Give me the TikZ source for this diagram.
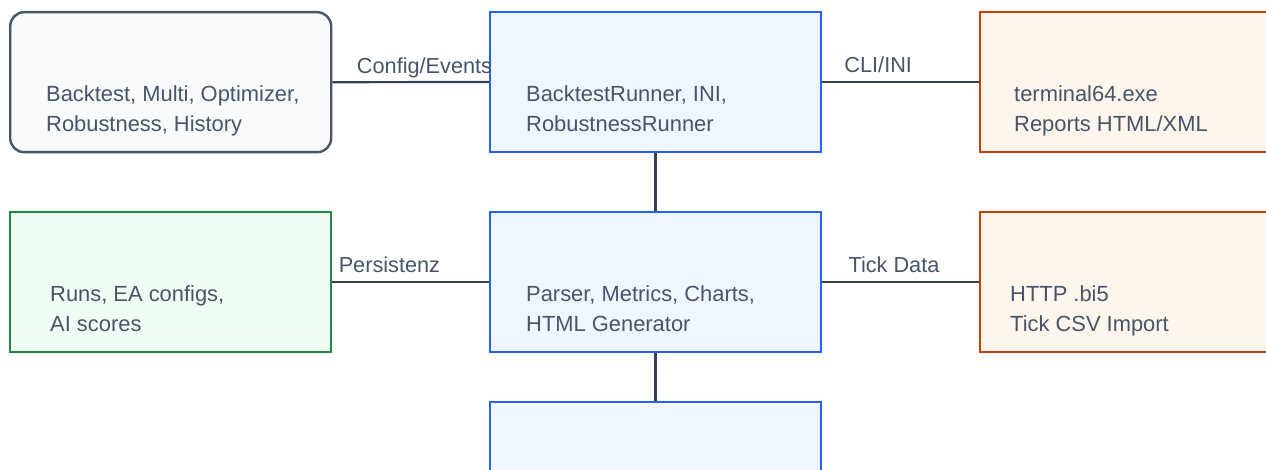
\documentclass[tikz,border=0pt]{standalone}
\usepackage{fontspec}
\setmainfont{Liberation Sans}
\definecolor{txtc}{HTML}{475569}
\definecolor{connc}{HTML}{334155}
\definecolor{greyfill}{HTML}{F8FAFC}
\definecolor{greyline}{HTML}{475569}
\definecolor{bluefill}{HTML}{EFF6FF}
\definecolor{blueline}{HTML}{2563EB}
\definecolor{orangefill}{HTML}{FEF5EC}
\definecolor{orangeline}{HTML}{C2410C}
\definecolor{greenfill}{HTML}{F0FDF4}
\definecolor{greenline}{HTML}{1E8A3E}
\begin{document}
\begin{tikzpicture}[x=1pt,y=-1pt,
  boxbase/.style={draw, line width=2pt, anchor=north west, inner sep=0pt, minimum height=140pt},
  greybox/.style={boxbase, draw=greyline, fill=greyfill, rounded corners=14pt, line width=2.4pt, minimum width=321pt},
  bluebox/.style={boxbase, draw=blueline, fill=bluefill, minimum width=331pt},
  orangebox/.style={boxbase, draw=orangeline, fill=orangefill, minimum width=331pt},
  greenbox/.style={boxbase, draw=greenline, fill=greenfill, minimum width=321pt},
  txt/.style={font=\fontsize{21.9}{29.4}\selectfont, text=txtc, align=left, inner sep=0pt, anchor=base west},
  lbl/.style={font=\fontsize{21.7}{26}\selectfont, text=txtc, inner sep=0pt, anchor=base west, yshift=9pt},
  conn/.style={draw=connc, line width=2.2pt}
]
\useasboundingbox (0,0) rectangle (1266,470);
% boxes
\node[greybox] (A) at (9,11) {};
\node[bluebox] (B) at (489,11) {};
\node[orangebox] (C) at (979,11) {};
\node[greenbox] (D) at (9,211) {};
\node[bluebox] (E) at (489,211) {};
\node[orangebox] (F) at (979,211) {};
\node[bluebox] (G) at (489,401) {};
% texts (base anchor = baseline of last line)
\node[txt] (At) at (46,131.1) {Backtest, Multi, Optimizer,\\Robustness, History};
\node[txt] (Bt) at (526,131.1) {BacktestRunner, INI,\\RobustnessRunner};
\node[txt] (Ct) at (1014,131.1) {terminal64.exe\\Reports HTML/XML};
\node[txt] (Dt) at (50,331.1) {Runs, EA configs,\\AI scores};
\node[txt] (Et) at (526,331.1) {Parser, Metrics, Charts,\\HTML Generator};
\node[txt] (Ft) at (1010,331.1) {HTTP .bi5\\Tick CSV Import};
% connectors
\draw[conn] (A.east) -- node[lbl, pos=0.15] {Config/Events} (B.west);
\draw[conn] (B.east) -- node[lbl, pos=0.136] {CLI/INI} (C.west);
\draw[conn] (D.east) -- node[lbl, pos=0.036] {Persistenz} (E.west);
\draw[conn] (E.east) -- node[lbl, pos=0.162] {Tick Data} (F.west);
\draw[conn] (B.south) -- (E.north);
\draw[conn] (E.south) -- (G.north);
\end{tikzpicture}
\end{document}
